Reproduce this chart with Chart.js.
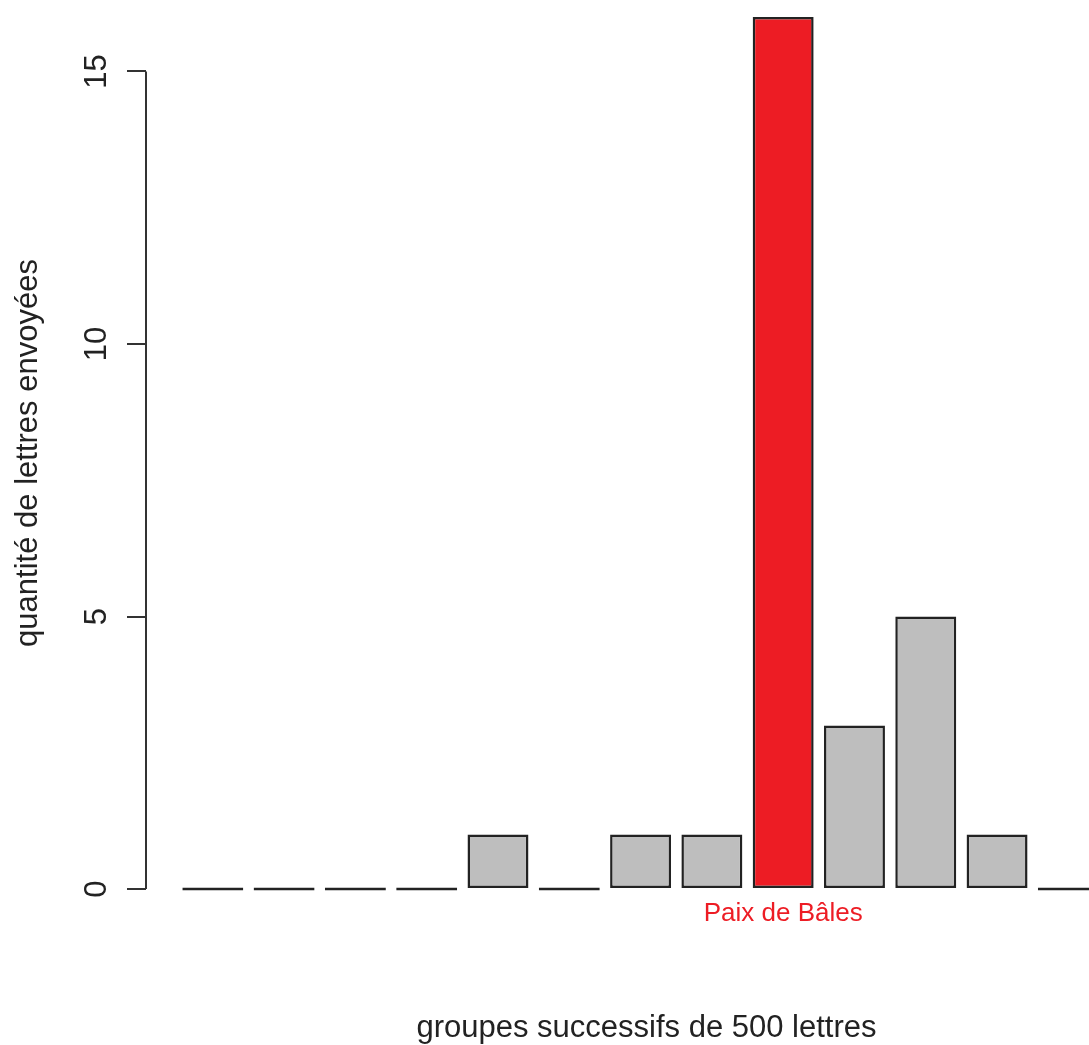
<!DOCTYPE html>
<html>
<head>
<meta charset="utf-8">
<script src="https://cdn.jsdelivr.net/npm/chart.js@4/dist/chart.umd.min.js"></script>
<style>
  html, body { margin: 0; padding: 0; background: #fff; overflow: hidden; }
  /* plot region is larger than the window, like the cropped original */
  #wrap { width: 1147px; height: 1063px; margin-top: -18px; }
</style>
</head>
<body>
<div id="wrap"><canvas id="lettresChart"></canvas></div>
<script>
// groupes successifs (0..12) et nombre de lettres envoyées
const groupes = [0, 1, 2, 3, 4, 5, 6, 7, 8, 9, 10, 11, 12];
const lettres = [0, 0, 0, 0, 1, 0, 1, 1, 16, 3, 5, 1, 0];
const couleurs = ['#bebebe', '#bebebe', '#bebebe', '#bebebe', '#bebebe', '#bebebe', '#bebebe',
                  '#bebebe', '#ed1c24', '#bebebe', '#bebebe', '#bebebe', '#bebebe'];
const etiquettes = ['', '', '', '', '', '', '', '', 'Paix de Bâles', '', '', '', ''];
const yTicks = [0, 5, 10, 15];

const FONT = 'Liberation Sans, Arial, sans-serif';

// R-style axis line: only from first to last tick
const axeY = {
    id: 'axeY',
    afterDraw(chart) {
        const y = chart.scales.y;
        const x0 = chart.chartArea.left;
        const ctx = chart.ctx;
        ctx.save();
        ctx.strokeStyle = '#333';
        ctx.lineWidth = 2;
        ctx.beginPath();
        ctx.moveTo(x0, y.getPixelForValue(yTicks[0]));
        ctx.lineTo(x0, y.getPixelForValue(yTicks[yTicks.length - 1]));
        ctx.stroke();
        ctx.restore();
    }
};

new Chart(document.getElementById('lettresChart').getContext('2d'), {
    type: 'bar',
    data: {
        datasets: [{
            data: groupes.map((g, i) => ({ x: g, y: lettres[i] })),
            backgroundColor: couleurs,
            borderColor: '#222',
            borderWidth: 2.5,
            borderSkipped: false,
            minBarLength: 3,
            barPercentage: 0.855,
            categoryPercentage: 1,
            clip: false,
        }]
    },
    options: {
        responsive: true,
        maintainAspectRatio: false,
        animation: false,
        layout: { padding: { bottom: 121 } },
        plugins: { legend: { display: false }, tooltip: { enabled: false } },
        scales: {
            x: {
                type: 'linear',
                position: { y: 0 },   // labels hang from the zero line
                offset: false,
                min: -0.937,
                max: 13.103,
                grid: { display: false, drawTicks: false },
                border: { display: false },
                afterBuildTicks: (s) => { s.ticks = [{ value: 8 }]; },
                afterFit: (s) => { s.height = 156; s.bottom = s.top + 156; },
                ticks: {
                    color: '#ed1c24',
                    padding: 9,
                    maxRotation: 0,
                    font: { family: FONT, size: 26 },
                    callback: (v) => etiquettes[v]
                },
                title: {
                    display: true,
                    text: 'groupes successifs de 500 lettres',
                    color: '#222',
                    padding: 0,
                    font: { family: FONT, size: 31, lineHeight: 1.1 }
                }
            },
            y: {
                min: -0.64,
                max: 16.64,
                grid: { drawOnChartArea: false, drawTicks: true, tickLength: 19, color: '#333', lineWidth: 2 },
                border: { display: false },
                afterBuildTicks: (s) => { s.ticks = yTicks.map(v => ({ value: v })); },
                afterFit: (s) => { s.width = 146; s.paddingTop = 0; s.paddingBottom = 0; },
                ticks: {
                    color: '#222',
                    minRotation: 90,
                    maxRotation: 90,
                    crossAlign: 'center',
                    padding: 12,
                    font: { family: FONT, size: 31 }
                },
                title: {
                    display: true,
                    text: 'quantité de lettres envoyées',
                    color: '#222',
                    padding: { top: 10, bottom: 0 },
                    font: { family: FONT, size: 31 }
                }
            }
        }
    },
    plugins: [axeY]
});
</script>
</body>
</html>
